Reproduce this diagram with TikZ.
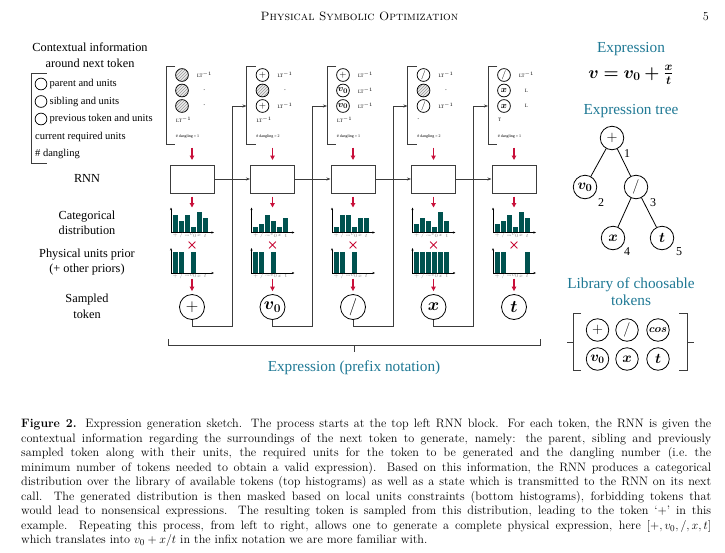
\documentclass[tikz,border=0pt]{standalone}
\usepackage{amsmath}
\usepackage{bm}
\usepackage{fontspec}
\newfontfamily\tms{Liberation Serif}
\usetikzlibrary{arrows.meta,patterns,shapes.misc}
\definecolor{redc}{RGB}{200,16,58}
\definecolor{barc}{RGB}{0,82,79}
\definecolor{tealt}{RGB}{30,120,148}
\definecolor{linec}{RGB}{60,60,60}
\newcommand\LTi{LT$^{-1}$}
\newcommand\Dsh{-}
\newcommand\Tplus{$+$}
\newcommand\Tdiv{$/$}
\newcommand\Tvz{$\bm{v_0}$}
\newcommand\Tx{$\bm{x}$}
\newcommand\Tt{$\bm{t}$}
\tikzset{
 conn/.style={draw=linec, line width=0.9pt},
 arr/.style={-{Stealth[length=4pt,width=3pt]}},
 redarr/.style={draw=redc, line width=1.4pt, -{Triangle[length=4.5pt,width=4.5pt]}},
 cc/.style={circle, draw=black, line width=0.75pt, minimum size=12.8pt, inner sep=0pt, font=\fontsize{9.5}{9.5}\selectfont},
 ch/.style={cc, preaction={fill=gray!15}, pattern=north east lines, pattern color=gray!80},
 tok/.style={circle, draw=black, line width=0.8pt, minimum size=25pt, inner sep=0pt, font=\fontsize{16.5}{16.5}\selectfont},
 trn/.style={tok, minimum size=23.5pt, font=\fontsize{15}{15}\selectfont},
 libn/.style={tok, minimum size=22.5pt, font=\fontsize{14}{14}\selectfont},
 rnnbox/.style={draw=linec, line width=1pt, minimum width=44pt, minimum height=28pt, inner sep=0pt},
 lbl/.style={font=\tms\fontsize{12.3}{15}\selectfont, align=center, inner sep=0pt},
 ttl/.style={font=\tms\fontsize{15.3}{17}\selectfont, text=tealt, align=center, inner sep=0pt},
 legtxt/.style={font=\tms\fontsize{10.5}{12}\selectfont, anchor=west, inner sep=0pt},
 tnytxt/.style={font=\tms\fontsize{5}{5}\selectfont, inner sep=0pt},
 tnywest/.style={font=\tms\fontsize{4}{4}\selectfont, inner sep=0pt, anchor=west},
 ticktxt/.style={font=\tms\fontsize{3}{3}\selectfont, inner sep=0pt, text=gray},
 xmark/.style={cross out, draw=redc, line width=0.8pt, minimum size=6pt, inner sep=0pt},
 barf/.style={fill=barc},
 axl/.style={draw=black, line width=0.6pt, -{Stealth[length=2.5pt,width=2pt]}},
 numtxt/.style={font=\tms\fontsize{12}{12}\selectfont, inner sep=0pt},
}
\begin{document}
\begin{tikzpicture}[x=1pt,y=-1pt]
\useasboundingbox (0,0) rectangle (725,552);

% header
\node[anchor=base west, inner sep=0pt, font=\fontsize{12.1}{14}\selectfont] (hdr) at (260.5,20) {\textsc{Physical Symbolic Optimization}};
\node[anchor=base east, inner sep=0pt, font=\fontsize{12.1}{14}\selectfont] (pg) at (709,20) {5};

% legend
\node[lbl, font=\tms\fontsize{12.3}{16}\selectfont] (ctxt) at (90,55) {Contextual information\\around next token};
\draw[conn] (46.7,73) -- (31.7,73) -- (31.7,163) -- (46.7,163);
\node[cc, minimum size=11.8pt] (lg1) at (41,84) {};
\node[cc, minimum size=11.8pt] (lg2) at (41,101.5) {};
\node[cc, minimum size=11.8pt] (lg3) at (41,119) {};
\node[legtxt] (lt1) at (49.5,84) {parent and units};
\node[legtxt] (lt2) at (49.5,101.5) {sibling and units};
\node[legtxt] (lt3) at (49.5,119) {previous token and units};
\node[legtxt] (lt4) at (35,136.5) {current required units};
\node[legtxt] (lt5) at (35,154) {\# dangling};

% left row labels
\node[lbl] (lrnn) at (87,178.5) {RNN};
\node[lbl] (lcat) at (87,222.5) {Categorical\\distribution};
\node[lbl] (lphy) at (87,262.5) {Physical units prior\\(+ other priors)};
\node[lbl, font=\tms\fontsize{12.3}{16}\selectfont] (lsam) at (87,306) {Sampled\\token};

% columns
\foreach \i/\sA/\cA/\sB/\cB/\sC/\cC/\lA/\lB/\lC/\rU/\dN/\tk in {
 0/ch/{}/ch/{}/ch/{}/\LTi/\Dsh/\Dsh/\LTi/1/\Tplus,
 1/cc/\Tplus/ch/{}/cc/\Tplus/\LTi/\Dsh/\LTi/\LTi/2/\Tvz,
 2/cc/\Tplus/cc/\Tvz/cc/\Tvz/\LTi/\LTi/\LTi/\LTi/1/\Tdiv,
 3/cc/\Tdiv/ch/{}/cc/\Tdiv/\LTi/\Dsh/\LTi/\Dsh/2/\Tx,
 4/cc/\Tdiv/cc/\Tx/cc/\Tx/\LTi/L/L/T/1/\Tt}{
 \pgfmathsetmacro\bx{166+80.5*\i}
 \pgfmathsetmacro\cx{\bx+26}
 \draw[conn] ({\bx+9.3},66) -- (\bx,66) -- (\bx,144) -- ({\bx+9.3},144);
 \node[\sA] (ka\i) at ({\bx+16},75) {\cA};
 \node[\sB] (kb\i) at ({\bx+16},90.5) {\cB};
 \node[\sC] (kc\i) at ({\bx+16},106) {\cC};
 \node[tnytxt] (ua\i) at ({\bx+38.5},75) {\lA};
 \node[tnytxt] (ub\i) at ({\bx+38.5},90.5) {\lB};
 \node[tnytxt] (uc\i) at ({\bx+38.5},106) {\lC};
 \node[tnytxt, anchor=west] (ur\i) at ({\bx+10},120) {\rU};
 \node[tnywest] (dg\i) at ({\bx+9.7},137) {\# dangling = \dN};
 \coordinate (pv\i) at (\bx,106);
 \coordinate (cb\i) at (\cx,147.5);
 \node[rnnbox] (rnn\i) at (\cx,179) {};
 \draw[redarr, shorten >=4.5pt] (cb\i) -- (rnn\i.north);
 \coordinate (ht\i) at (\cx,207.5);
 \draw[redarr, shorten <=3pt] (rnn\i.south) -- (ht\i);
 \node[xmark] (mx\i) at (\cx,245) {};
 \coordinate (hb\i) at (\cx,278.5);
 \node[tok] (tok\i) at (\cx,307) {\tk};
 \draw[redarr, shorten >=3pt] (hb\i) -- (tok\i.north);
 % axes
 \draw[axl] ({\cx-21},232.5) -- ({\cx+22},232.5);
 \draw[axl] ({\cx-21},233) -- ({\cx-21},207.5);
 \draw[axl] ({\cx-21},273) -- ({\cx+22},273);
 \draw[axl] ({\cx-21},273.5) -- ({\cx-21},248);
 \foreach \lab [count=\k from 0] in {$+$,$/$,cos,$v_0$,$x$,$t$}{
   \node[ticktxt] at ({\cx-16.8+6*\k},235.5) {\lab};
   \node[ticktxt] at ({\cx-16.8+6*\k},276) {\lab};
 }
}

% histogram bars
\foreach \i/\hts/\msk in {
 0/{6,4,6,2,7,5}/{1,1,0,1,0,0},
 1/{2,3,6,4,2,5}/{1,1,0,1,0,0},
 2/{2,6,6,2,5,5}/{1,1,0,1,0,0},
 3/{3,5,4,2,7,4}/{1,1,1,1,1,1},
 4/{3,4,6,2,7,5}/{1,1,0,0,0,1}}{
 \pgfmathsetmacro\cx{192+80.5*\i}
 \foreach \h [count=\k from 0] in \hts {
   \fill[barf] ({\cx-19.3+6*\k},232.2) rectangle ++(5,{-(3*\h-0.3)});
 }
 \foreach \m [count=\k from 0] in \msk {
   \ifnum\m=1 \fill[barf] ({\cx-19.3+6*\k},272.7) rectangle ++(5,-21); \fi
 }
}

% state arrows and feedback loops
\foreach \i in {0,1,2,3}{
 \pgfmathtruncatemacro\j{\i+1}
 \pgfmathsetmacro\bx{166+80.5*\i}
 \coordinate (fb\i) at ({\bx+66},326);
 \draw[conn, arr] (rnn\i.east) -- (rnn\j.west);
 \draw[conn, arr] (tok\i.south) |- (fb\i) |- (pv\j);
}

% bottom brace
\coordinate (bl1) at (168,339);
\coordinate (bl2) at (168,345);
\coordinate (br2) at (540,345);
\coordinate (br1) at (540,339);
\coordinate (bm) at (354,345);
\coordinate (bmt) at (354,352);
\draw[conn] (bl1) -- (bl2) -- (br2) -- (br1);
\draw[conn] (bm) -- (bmt);
\node[ttl] (expr) at (354,368) {Expression (prefix notation)};

% right: expression
\node[ttl] (exprt) at (631,49) {Expression};
\node[font=\fontsize{17.5}{20}\selectfont, inner sep=0pt] (formula) at (631,75) {$\bm{v=v_0+\frac{x}{t}}$};
\node[ttl] (treet) at (631,111) {Expression tree};
\node[trn] (tp) at (612,138) {$+$};
\node[trn] (tv) at (585,187) {$\bm{v_0}$};
\node[trn] (td) at (636,187) {$/$};
\node[trn] (tx) at (613,238) {$\bm{x}$};
\node[trn] (tt) at (662,238) {$\bm{t}$};
\draw[draw=black, line width=0.8pt] (tp) -- (tv);
\draw[draw=black, line width=0.8pt] (tp) -- (td);
\draw[draw=black, line width=0.8pt] (td) -- (tx);
\draw[draw=black, line width=0.8pt] (td) -- (tt);
\node[numtxt] (n1) at (627,154) {1};
\node[numtxt] (n2) at (601,203) {2};
\node[numtxt] (n3) at (653,203) {3};
\node[numtxt] (n4) at (627,252) {4};
\node[numtxt] (n5) at (679,252) {5};

% library
\node[ttl] (libt) at (631,291.5) {Library of choosable\\tokens};
\draw[conn] (581,313) -- (573,313) -- (573,370) -- (581,370);
\draw[conn] (567,342) -- (573,342);
\draw[conn] (679,313) -- (687,313) -- (687,370) -- (679,370);
\draw[conn] (687,342) -- (694,342);
\node[libn] (l1) at (597.5,330) {$+$};
\node[libn] (l2) at (627,330) {$/$};
\node[libn, font=\fontsize{11}{11}\selectfont] (l3) at (658,330) {$\bm{cos}$};
\node[libn] (l4) at (597.5,359) {$\bm{v_0}$};
\node[libn] (l5) at (627,359) {$\bm{x}$};
\node[libn] (l6) at (658,359) {$\bm{t}$};

% caption
\node[anchor=north west, inner sep=0pt, text width=690pt, align=justify, font=\fontsize{12.2}{14.5}\selectfont] (cap) at (21,419) {\textbf{Figure 2.} Expression generation sketch. The process starts at the top left RNN block. For each token, the RNN is given the\linebreak
contextual information regarding the surroundings of the next token to generate, namely: the parent, sibling and previously\linebreak
sampled token along with their units, the required units for the token to be generated and the dangling number (i.e.\ the\linebreak
minimum number of tokens needed to obtain a valid expression). Based on this information, the RNN produces a categorical\linebreak
distribution over the library of available tokens (top histograms) as well as a state which is transmitted to the RNN on its next\linebreak
call. The generated distribution is then masked based on local units constraints (bottom histograms), forbidding tokens that\linebreak
would lead to nonsensical expressions. The resulting token is sampled from this distribution, leading to the token `+' in this\linebreak
example. Repeating this process, from left to right, allows one to generate a complete physical expression, here $[+, v_0, /, x, t]$\linebreak
which translates into $v_0 + x/t$ in the infix notation we are more familiar with.};
\end{tikzpicture}
\end{document}
